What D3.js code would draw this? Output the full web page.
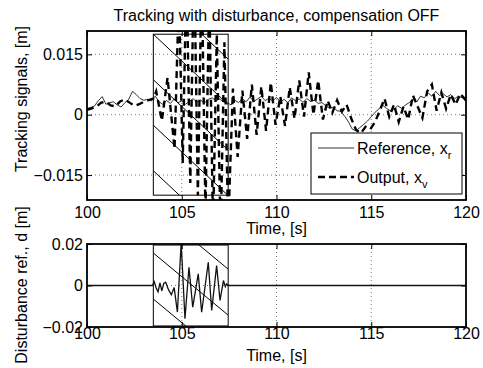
<!DOCTYPE html>
<html>
<head>
<meta charset="utf-8">
<script src="https://cdn.jsdelivr.net/npm/d3@7"></script>
<style>
  body { margin: 0; background: #fff; }
  text { font-family: "Liberation Sans", Arial, Helvetica, sans-serif; }
</style>
</head>
<body>
<svg id="chart" width="483" height="368"></svg>
<script>
// reference signal x_r [m], one sample every 0.2 s
var refT = [100.0,100.2,100.4,100.6,100.8,101.0,101.2,101.4,101.6,101.8,
  102.0,102.2,102.4,102.6,102.8,103.0,103.2,103.4,103.6,103.8,
  104.0,104.2,104.4,104.6,104.8,105.0,105.2,105.4,105.6,105.8,
  106.0,106.2,106.4,106.6,106.8,107.0,107.2,107.4,107.6,107.8,
  108.0,108.2,108.4,108.6,108.8,109.0,109.2,109.4,109.6,109.8,
  110.0,110.2,110.4,110.6,110.8,111.0,111.2,111.4,111.6,111.8,
  112.0,112.2,112.4,112.6,112.8,113.0,113.2,113.4,113.6,113.8,
  114.0,114.2,114.4,114.6,114.8,115.0,115.2,115.4,115.6,115.8,
  116.0,116.2,116.4,116.6,116.8,117.0,117.2,117.4,117.6,117.8,
  118.0,118.2,118.4,118.6,118.8,119.0,119.2,119.4,119.6,119.8,
  120.0];
var refV = [0.0015,0.0018,0.0022,0.0035,0.0045,0.0026,0.0030,0.0032,0.0024,0.0019,
  0.0030,0.0038,0.0058,0.0050,0.0040,0.0036,0.0038,0.0034,0.0046,0.0032,
  0.0026,0.0035,0.0028,0.0039,0.0030,0.0034,0.0026,0.0033,0.0040,0.0031,
  0.0036,0.0029,0.0038,0.0042,0.0035,0.0039,0.0032,0.0030,0.0024,0.0036,
  0.0030,0.0040,0.0032,0.0044,0.0033,0.0039,0.0046,0.0035,0.0041,0.0034,
  0.0043,0.0032,0.0038,0.0030,0.0042,0.0035,0.0039,0.0031,0.0040,0.0033,
  0.0036,0.0028,0.0030,0.0022,0.0016,0.0018,0.0010,0.0008,-0.0004,-0.0018,
  -0.0036,-0.0040,-0.0032,-0.0024,-0.0016,-0.0005,0.0006,0.0014,0.0024,0.0016,
  0.0010,0.0014,0.0022,0.0016,0.0024,0.0030,0.0038,0.0032,0.0046,0.0042,
  0.0054,0.0046,0.0058,0.0048,0.0052,0.0044,0.0050,0.0040,0.0046,0.0042,
  0.0044];

// output x_v [m], turning points
var outT = [100.0,100.25,100.5,100.75,101.0,101.25,101.5,101.75,102.0,102.25,
  102.5,102.75,103.0,103.25,103.5,103.65,103.95,104.25,104.62,104.85,
  105.05,105.25,105.45,105.65,105.85,106.05,106.25,106.45,106.65,106.85,
  107.05,107.25,107.45,107.7,
  107.95,108.2,108.45,108.7,108.95,109.2,109.45,109.7,109.95,110.2,
  110.45,110.7,110.95,111.2,111.45,111.7,111.95,112.2,112.45,112.7,
  112.95,113.2,113.45,113.7,113.95,114.2,114.45,114.7,114.95,115.2,
  115.45,115.7,115.95,116.2,116.45,116.7,116.95,117.2,117.45,117.7,
  117.95,118.2,118.45,118.7,118.95,119.2,119.45,119.7,120.0];
var outV = [0.0012,0.0016,0.0020,0.0030,0.0032,0.0023,0.0021,0.0033,0.0038,0.0030,
  0.0022,0.0026,0.0032,0.0036,0.0040,0.0058,-0.0015,0.0092,-0.0085,0.030,
  -0.012,0.036,-0.017,0.040,-0.020,0.036,-0.024,0.030,-0.028,0.020,
  -0.030,0.018,-0.028,0.0065,
  -0.0105,0.0060,-0.0060,0.0075,-0.0050,0.0070,-0.0040,0.0080,-0.0025,0.0045,
  -0.0028,0.0068,-0.0010,0.0085,-0.0005,0.0105,0.0000,0.0085,-0.0012,0.0035,
  0.0005,0.0036,0.0008,0.0025,-0.0010,-0.0038,-0.0046,-0.0030,-0.0036,-0.0018,
  0.0010,0.0040,-0.0005,0.0025,-0.0018,0.0020,-0.0012,0.0048,0.0020,-0.0008,
  0.0058,0.0075,0.0010,0.0055,0.0015,0.0050,0.0025,0.0052,0.0035];

// disturbance reference d [m]
var distT = [100.0,103.45,103.55,103.65,103.75,103.85,103.95,104.05,104.15,104.3,
  104.45,104.6,104.77,104.97,105.17,105.38,105.58,105.87,106.05,106.4,
  106.58,106.84,107.02,107.2,107.3,107.37,107.45,120.0];
var distV = [0,0,0.0018,-0.0012,-0.0030,0.0012,-0.0026,0.0010,0.0016,-0.0020,
  -0.0045,-0.0010,-0.0128,0.0205,-0.0160,0.0088,-0.0104,0.0056,-0.0129,0.0112,
  -0.0120,0.0096,-0.0072,0.0024,-0.0006,0.0008,0,0];

// time window in which the disturbance acts
var boxT = [103.5, 107.45];
var boxTopV = [-0.020, 0.020];
var boxBotV = [-0.0195, 0.0195];

var xTicks = [100, 105, 110, 115, 120];
var topTicks = [-0.015, 0, 0.015];
var botTicks = [-0.02, 0, 0.02];
var legendItems = [
  {label: "Reference, x", sub: "r"},
  {label: "Output, x", sub: "v"}
];

var FS = 16;
var svg = d3.select("#chart");
var defs = svg.append("defs");

var x = d3.scaleLinear().domain([100, 120]).range([87, 466]);
var yTop = d3.scaleLinear().domain([-0.0212, 0.0208]).range([200, 31]);
var yBot = d3.scaleLinear().domain([-0.02, 0.02]).range([327, 244]);

function fmt(d) {
  if (d === 0) return "0";
  return (d < 0 ? "\u2212" : "") + String(Math.abs(d));
}

function styleAxis(g) {
  g.select(".domain").remove();
  g.attr("font-size", FS).attr("font-family", null);
  g.selectAll(".tick line").attr("stroke", "#000").attr("stroke-width", 1);
  g.selectAll(".tick text").attr("fill", "#000");
}

// draws grid and ticks for one axes box
function drawAxes(y, yTicks, id, xPad) {
  var x0 = x.range()[0], x1 = x.range()[1];
  var yb = y.range()[0], yt = y.range()[1];

  defs.append("clipPath").attr("id", id)
    .append("rect").attr("x", x0).attr("y", yt).attr("width", x1 - x0).attr("height", yb - yt);

  var grid = svg.append("g").attr("class", "grid")
    .attr("stroke", "#555").attr("stroke-width", 0.8).attr("stroke-dasharray", "1,3");
  grid.selectAll(".gx").data(xTicks.slice(1, -1)).enter().append("line")
    .attr("x1", d => x(d)).attr("x2", d => x(d)).attr("y1", yt).attr("y2", yb);
  grid.selectAll(".gy").data(yTicks.filter(d => y(d) > yt + 1 && y(d) < yb - 1)).enter().append("line")
    .attr("x1", x0).attr("x2", x1).attr("y1", d => y(d)).attr("y2", d => y(d));

  svg.append("g").attr("transform", "translate(0," + yb + ")")
    .call(d3.axisBottom(x).tickValues(xTicks).tickSize(-5).tickPadding(xPad).tickFormat(d3.format("d")))
    .call(styleAxis);
  svg.append("g").attr("transform", "translate(0," + yt + ")")
    .call(d3.axisTop(x).tickValues(xTicks).tickSize(-5).tickFormat(""))
    .call(styleAxis);
  svg.append("g").attr("transform", "translate(" + x0 + ",0)")
    .call(d3.axisLeft(y).tickValues(yTicks).tickSize(-5).tickPadding(4).tickFormat(fmt))
    .call(styleAxis);
  svg.append("g").attr("transform", "translate(" + x1 + ",0)")
    .call(d3.axisRight(y).tickValues(yTicks).tickSize(-5).tickFormat(""))
    .call(styleAxis);
}

// rectangle with diagonal hatching over the disturbance window
function drawHatchBox(y, vr, slope, gap, offset, id) {
  var bx0 = x(boxT[0]), bx1 = x(boxT[1]);
  var by0 = y(vr[1]), by1 = y(vr[0]);
  defs.append("clipPath").attr("id", id)
    .append("rect").attr("x", bx0).attr("y", by0).attr("width", bx1 - bx0).attr("height", by1 - by0);
  var kMin = Math.floor(-(offset + slope * (bx1 - bx0)) / gap);
  var kMax = Math.ceil((by1 - by0 - offset) / gap);
  var g = svg.append("g").attr("clip-path", "url(#" + id + ")");
  g.selectAll("line").data(d3.range(kMin, kMax + 1)).enter().append("line")
    .attr("x1", bx0).attr("x2", bx1)
    .attr("y1", k => by0 + offset + k * gap)
    .attr("y2", k => by0 + offset + k * gap + slope * (bx1 - bx0))
    .attr("stroke", "#000").attr("stroke-width", 1);
  svg.append("rect")
    .attr("x", bx0).attr("y", by0).attr("width", bx1 - bx0).attr("height", by1 - by0)
    .attr("fill", "none").attr("stroke", "#000").attr("stroke-width", 1);
}

function frame(y) {
  var x0 = x.range()[0], x1 = x.range()[1];
  svg.append("rect")
    .attr("x", x0).attr("y", y.range()[1]).attr("width", x1 - x0).attr("height", y.range()[0] - y.range()[1])
    .attr("fill", "none").attr("stroke", "#000").attr("stroke-width", 1.8);
}

//---------------- top: tracking signals
drawAxes(yTop, topTicks, "clipTop", 7);
drawHatchBox(yTop, boxTopV, 0.94, 45.5, 0, "hatchTop");

var lineTop = d3.line().x(d => x(d[0])).y(d => yTop(d[1]));

svg.append("path")
  .datum(d3.zip(refT, refV))
  .attr("clip-path", "url(#clipTop)")
  .attr("d", lineTop)
  .attr("fill", "none").attr("stroke", "#000").attr("stroke-width", 0.8);

svg.append("path")
  .datum(d3.zip(outT, outV))
  .attr("clip-path", "url(#clipTop)")
  .attr("d", lineTop)
  .attr("fill", "none").attr("stroke", "#000").attr("stroke-width", 2.4)
  .attr("stroke-dasharray", "7,4.5");

// legend
var lg = svg.append("g").attr("transform", "translate(311,133)");
lg.append("rect").attr("width", 151).attr("height", 61)
  .attr("fill", "#fff").attr("stroke", "#000").attr("stroke-width", 1);
var item = lg.selectAll(".item").data(legendItems).enter().append("g")
  .attr("transform", (d, i) => "translate(0," + (15 + i * 29) + ")");
item.append("line").attr("x1", 7).attr("x2", 43)
  .attr("stroke", "#000")
  .attr("stroke-width", (d, i) => i ? 2.6 : 0.8)
  .attr("stroke-dasharray", (d, i) => i ? "7,4" : null);
var lt = item.append("text").attr("x", 46).attr("y", 6).attr("font-size", FS);
lt.append("tspan").text(d => d.label);
lt.append("tspan").attr("font-size", 11).attr("dy", 5).text(d => d.sub);

frame(yTop);

svg.append("text").attr("x", 276.5).attr("y", 21).attr("text-anchor", "middle")
  .attr("font-size", FS).text("Tracking with disturbance, compensation OFF");
svg.append("text").attr("x", 276.5).attr("y", 234).attr("text-anchor", "middle")
  .attr("font-size", FS).text("Time, [s]");
svg.append("text").attr("transform", "translate(27,99) rotate(-90)").attr("text-anchor", "middle")
  .attr("font-size", FS).text("Tracking signals, [m]");

//---------------- bottom: disturbance reference
drawAxes(yBot, botTicks, "clipBot", 1);
drawHatchBox(yBot, boxBotV, 0.83, 46, 8, "hatchBot");

svg.append("path")
  .datum(d3.zip(distT, distV))
  .attr("clip-path", "url(#clipBot)")
  .attr("d", d3.line().x(d => x(d[0])).y(d => yBot(d[1])))
  .attr("fill", "none").attr("stroke", "#111").attr("stroke-width", 1.3);

frame(yBot);

svg.append("text").attr("x", 276.5).attr("y", 361).attr("text-anchor", "middle")
  .attr("font-size", FS).text("Time, [s]");
svg.append("text").attr("transform", "translate(27,285) rotate(-90)").attr("text-anchor", "middle")
  .attr("font-size", FS).text("Disturbance ref., d [m]");
</script>
</body>
</html>
